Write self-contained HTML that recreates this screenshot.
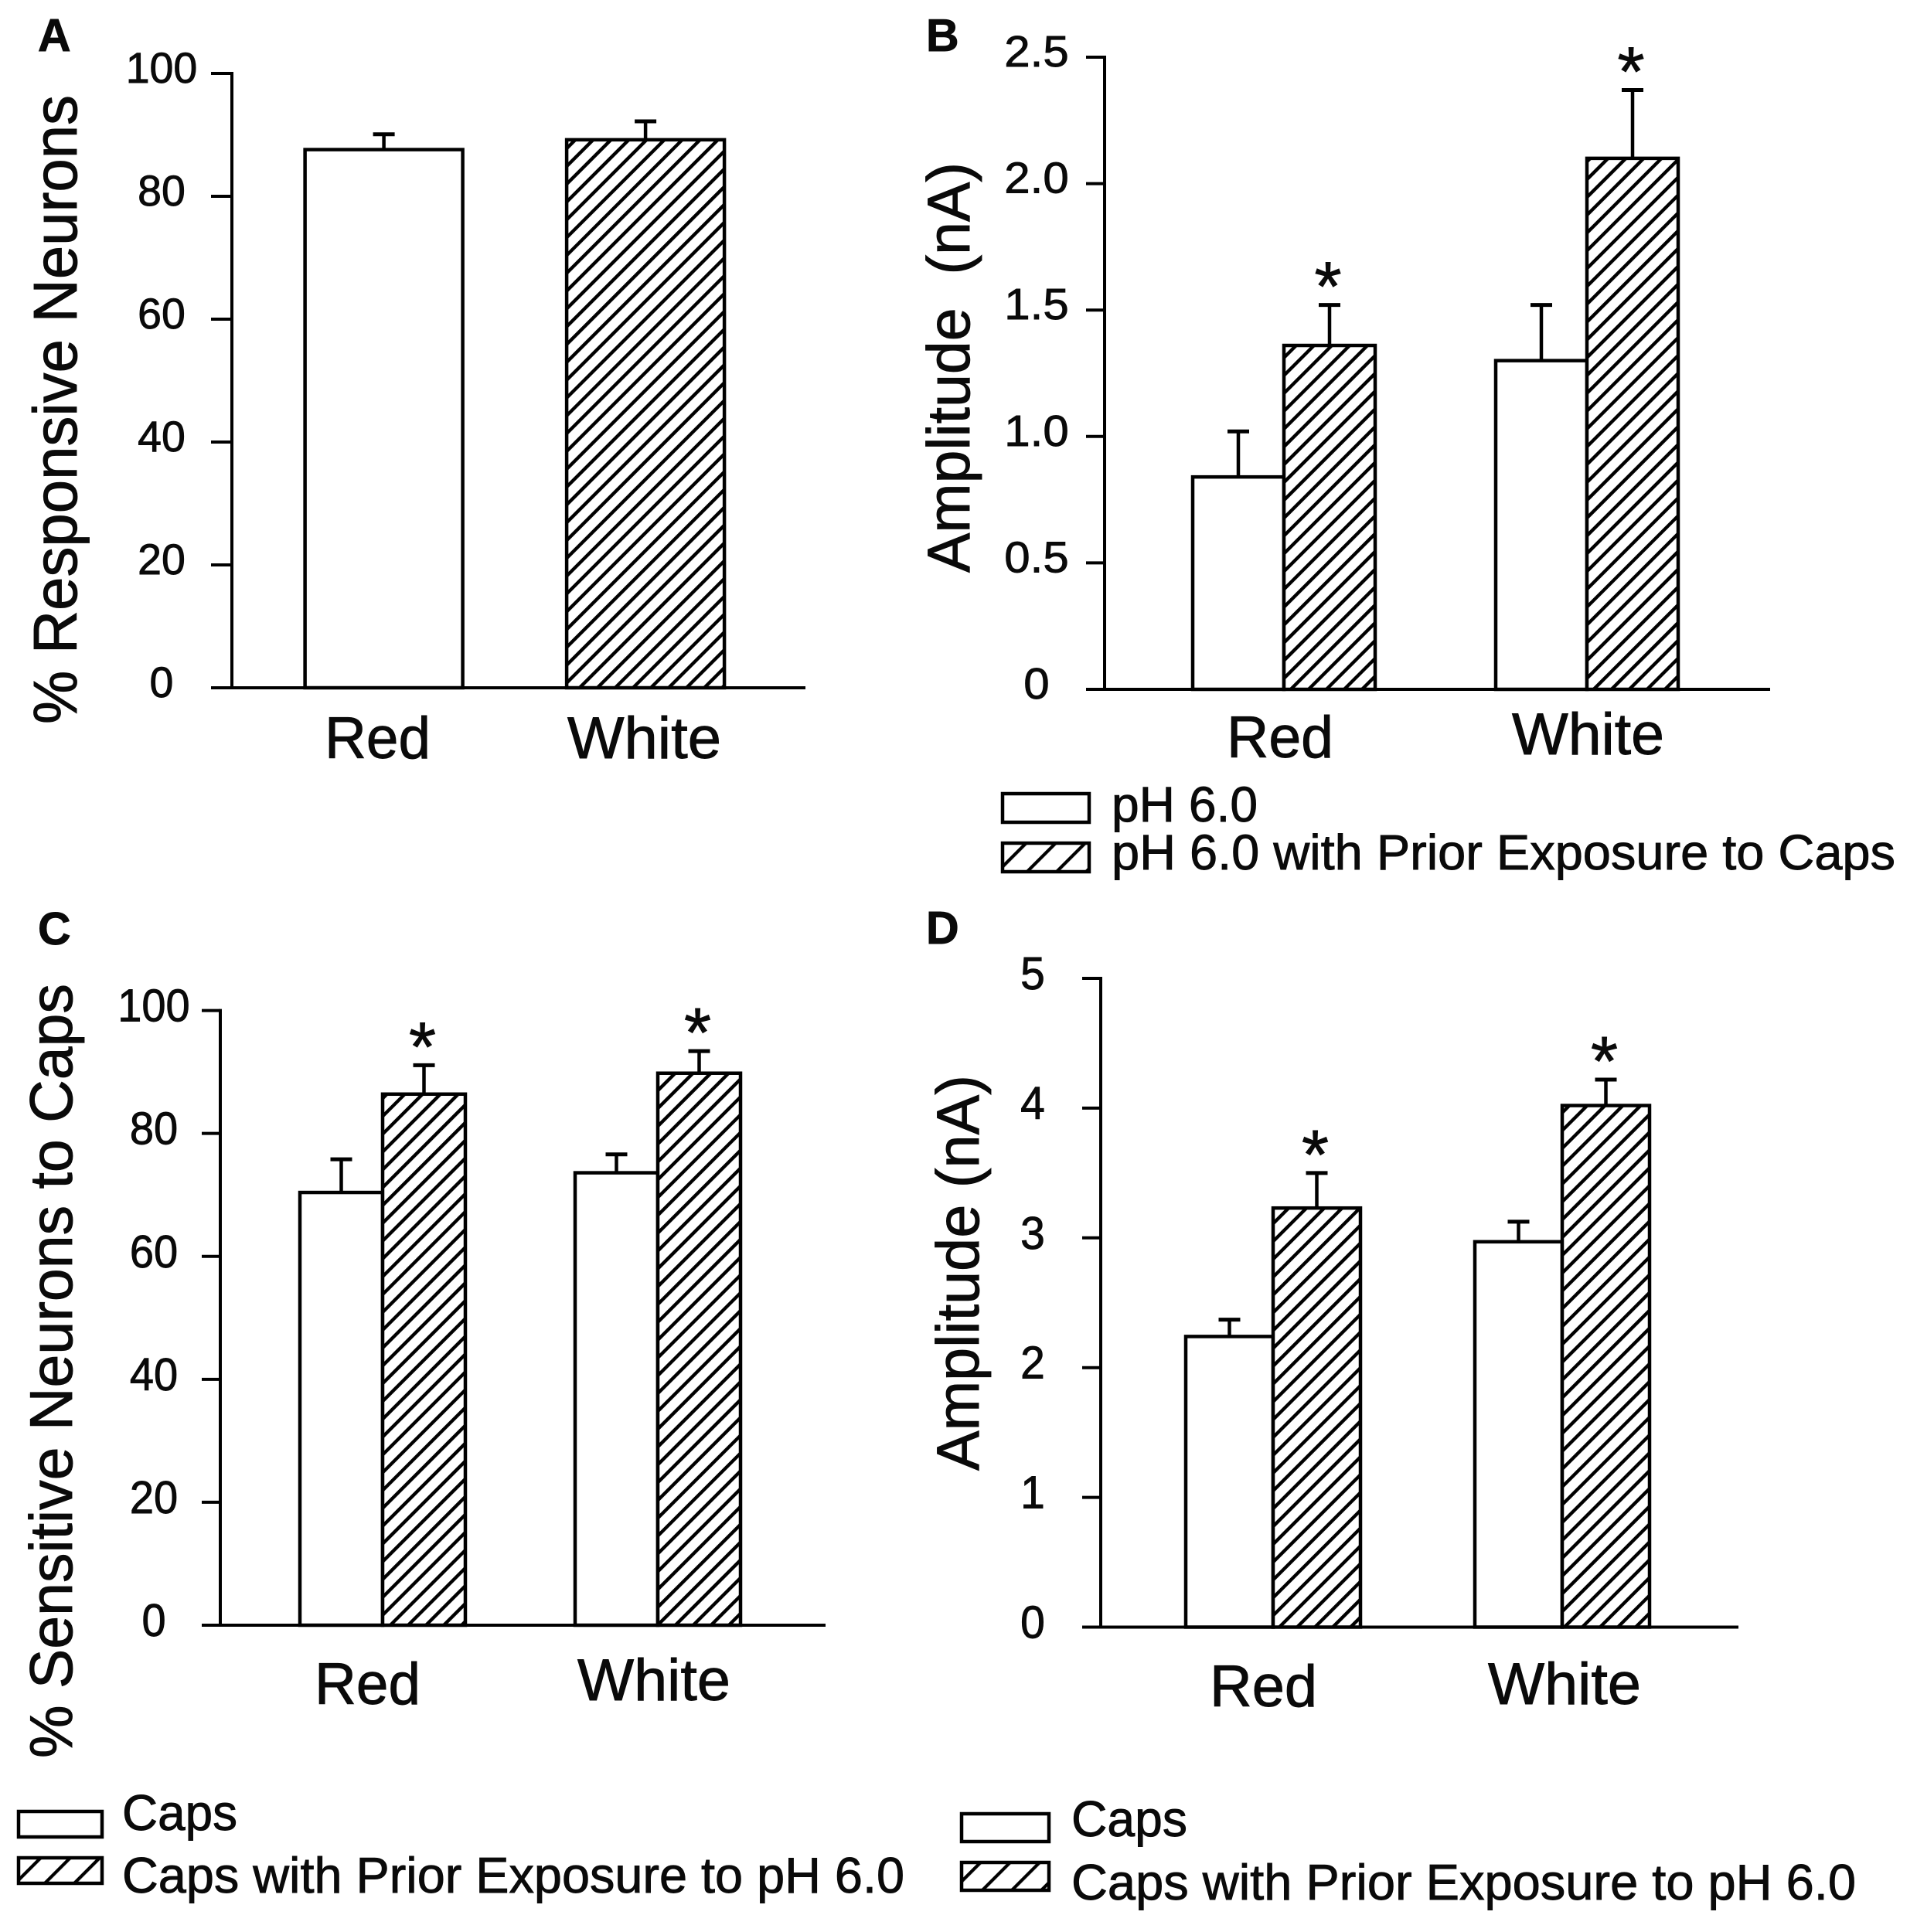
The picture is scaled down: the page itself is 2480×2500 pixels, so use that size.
<!DOCTYPE html>
<html lang="en">
<head>
<meta charset="utf-8">
<title>Neuron responses panels A-D</title>
<style>
html,body{margin:0;padding:0;background:#fff;}
svg{display:block;}
text{font-family:"Liberation Sans",Arial,sans-serif;fill:#0a0a0a;stroke:#0a0a0a;stroke-width:0.9px;white-space:pre;}
</style>
</head>
<body>
<svg id="figure" xmlns="http://www.w3.org/2000/svg" width="2480" height="2500" viewBox="0 0 2480 2500">
<defs>
<pattern id="hatch-bar" width="16.3" height="16.3" patternUnits="userSpaceOnUse" patternTransform="rotate(45)">
<rect width="16.3" height="16.3" fill="#fff"/>
<rect width="4.4" height="16.3" fill="#000"/>
</pattern>
<pattern id="hatch-legend" width="27" height="27" patternUnits="userSpaceOnUse" patternTransform="translate(6 4) rotate(45)">
<rect width="27" height="27" fill="#fff"/>
<rect width="4.2" height="27" fill="#000"/>
</pattern>
</defs>
<rect x="0" y="0" width="2480" height="2500" fill="#fff"/>
</svg>
<script>
// ---- chart data ----
const categories = ["Red", "White"];

const panelATicks = [0, 20, 40, 60, 80, 100];
const panelATickLabels = ["0", "20", "40", "60", "80", "100"];
const panelAValues = [87.6, 89.2];
const panelAErrors = [2.5, 3.0];

const panelBTicks = [0, 0.5, 1.0, 1.5, 2.0, 2.5];
const panelBTickLabels = ["0", "0.5", "1.0", "1.5", "2.0", "2.5"];
const panelBPh = [0.84, 1.30];
const panelBPhErrors = [0.18, 0.22];
const panelBPrior = [1.36, 2.10];
const panelBPriorErrors = [0.16, 0.27];

const panelCTicks = [0, 20, 40, 60, 80, 100];
const panelCTickLabels = ["0", "20", "40", "60", "80", "100"];
const panelCCaps = [70.4, 73.6];
const panelCCapsErrors = [5.4, 3.0];
const panelCPrior = [86.4, 89.8];
const panelCPriorErrors = [4.7, 3.6];

const panelDTicks = [0, 1, 2, 3, 4, 5];
const panelDTickLabels = ["0", "1", "2", "3", "4", "5"];
const panelDCaps = [2.24, 2.97];
const panelDCapsErrors = [0.13, 0.155];
const panelDPrior = [3.23, 4.02];
const panelDPriorErrors = [0.27, 0.20];

// ---- helpers ----
const svg = document.getElementById('figure');
const NS = 'http://www.w3.org/2000/svg';

function make(parent, tag, name, attrs, content) {
  const el = document.createElementNS(NS, tag);
  
  
  for (const k in attrs) el.setAttribute(k, attrs[k]);
  if (content !== undefined) el.textContent = content;
  parent.appendChild(el);
  return el;
}

function line(parent, name, x1, y1, x2, y2, w) {
  return make(parent, 'line', name, {x1: x1, y1: y1, x2: x2, y2: y2, stroke: '#000', 'stroke-width': w});
}

function digitsWidth(s) {
  let w = 0;
  for (const c of s) w += c === '.' ? 0.278 : 0.556;
  return w;
}

function drawPanel(p) {
  const g = make(svg, 'g', 'panel-' + p.id, {});
  const yScale = v => p.bottom - (v / p.max) * (p.bottom - p.top);
  const barX = (group, series) => p.firstBar + group * p.groupStep + series * p.barWidth;

  make(g, 'text', 'panel-label-' + p.id, {x: p.letter[0], y: p.letter[1], 'font-size': 59, 'font-weight': 'bold'}, p.id.toUpperCase());

  // y title
  const title = p.title;
  make(g, 'text', 'y-axis-title', {
    x: title.x, y: title.yBottom, 'font-size': title.size,
    transform: 'rotate(-90 ' + title.x + ' ' + title.yBottom + ')',
    textLength: title.length, lengthAdjust: 'spacingAndGlyphs'
  }, title.text);

  // bars
  p.series.forEach((s, si) => {
    s.values.forEach((v, ci) => {
      const seriesSlot = p.singleSeries ? 0 : si;
      const left = barX(ci, seriesSlot);
      const centre = left + p.barWidth / 2;
      const topY = yScale(v);
      const errY = yScale(v + s.errors[ci]);
      const hatched = p.singleSeries ? ci === 1 : si === 1;
      const label = categories[ci].toLowerCase() + '-' + s.key;
      line(g, 'error-stem-' + label, centre, topY, centre, errY, 4.5);
      line(g, 'error-cap-' + label, centre - 14, errY, centre + 14, errY, 5);
      make(g, 'rect', 'bar-' + label, {
        x: left, y: topY, width: p.barWidth, height: p.bottom - topY,
        fill: hatched ? 'url(#hatch-bar)' : '#fff', stroke: '#000', 'stroke-width': 4.5
      });
      if (s.star) {
        make(g, 'text', 'significance-star-' + label, {
          x: centre - 2, y: errY - 38 + 45, 'font-size': 90, 'text-anchor': 'middle'
        }, '*');
      }
    });
  });

  // axes
  line(g, 'y-axis', p.axisX, p.top - 2, p.axisX, p.bottom + 2, 4);
  line(g, 'x-axis', p.tickLeft, p.bottom, p.axisRight, p.bottom, 4);
  p.ticks.forEach((t, i) => {
    const y = yScale(t);
    line(g, 'y-tick-' + p.tickLabels[i], p.tickLeft, y, p.axisX, y, 4);
    const lbl = p.tickLabels[i];
    make(g, 'text', 'y-tick-label-' + lbl, {
      x: p.tickCentre, y: y + p.tickBaseline, 'font-size': p.tickSize, 'text-anchor': 'middle',
      textLength: (digitsWidth(lbl) * p.tickWidth).toFixed(1), lengthAdjust: 'spacingAndGlyphs'
    }, lbl);
  });

  // category labels
  p.catLayout.forEach((c, i) => {
    make(g, 'text', 'x-category-label-' + categories[i].toLowerCase(), {
      x: c.x, y: c.y, 'font-size': 76, textLength: c.w, lengthAdjust: 'spacingAndGlyphs'
    }, categories[i]);
  });

  // legend
  if (p.legend) {
    const L = p.legend;
    L.items.forEach((item, i) => {
      make(g, 'rect', 'legend-swatch-' + (i + 1), {
        x: L.x, y: item.y, width: L.w, height: L.h,
        fill: i === 1 ? 'url(#hatch-legend)' : '#fff', stroke: '#000', 'stroke-width': 4.5
      });
      make(g, 'text', 'legend-label-' + (i + 1), {
        x: L.textX, y: item.base, 'font-size': L.size, textLength: item.len, lengthAdjust: 'spacingAndGlyphs'
      }, item.text);
    });
  }
}

// ---- panels (layout + references to the data arrays) ----
drawPanel({
  id: 'a', letter: [49, 66], top: 95, bottom: 890, max: 100,
  axisX: 300, tickLeft: 273, axisRight: 1042,
  firstBar: 394.6, barWidth: 204, groupStep: 338.5, singleSeries: true,
  ticks: panelATicks, tickLabels: panelATickLabels,
  tickCentre: 209, tickBaseline: 12, tickSize: 56, tickWidth: 55.5,
  title: {text: '% Responsive Neurons', x: 99, yBottom: 937, size: 80, length: 814},
  series: [{key: 'percent-responsive', values: panelAValues, errors: panelAErrors, star: false}],
  catLayout: [{x: 420, y: 981, w: 137}, {x: 734, y: 981, w: 199}]
});

drawPanel({
  id: 'b', letter: [1198, 66], top: 74, bottom: 892, max: 2.5,
  axisX: 1429, tickLeft: 1405, axisRight: 2290,
  firstBar: 1543, barWidth: 118, groupStep: 392,
  ticks: panelBTicks, tickLabels: panelBTickLabels,
  tickCentre: 1341, tickBaseline: 12, tickSize: 57, tickWidth: 60,
  title: {text: 'Amplitude  (nA)', x: 1254, yBottom: 741, size: 78, length: 531},
  series: [
    {key: 'ph-6', values: panelBPh, errors: panelBPhErrors, star: false},
    {key: 'ph-6-prior-caps', values: panelBPrior, errors: panelBPriorErrors, star: true}
  ],
  catLayout: [{x: 1587, y: 980, w: 138}, {x: 1956, y: 976, w: 197}],
  legend: {
    x: 1297, w: 112, h: 37, textX: 1438, size: 64,
    items: [
      {y: 1027, base: 1063, len: 189, text: 'pH 6.0'},
      {y: 1091, base: 1125, len: 1014, text: 'pH 6.0 with Prior Exposure to Caps'}
    ]
  }
});

drawPanel({
  id: 'c', letter: [49, 1222], top: 1307.6, bottom: 2103, max: 100,
  axisX: 285, tickLeft: 261, axisRight: 1068,
  firstBar: 388, barWidth: 107, groupStep: 356,
  ticks: panelCTicks, tickLabels: panelCTickLabels,
  tickCentre: 199, tickBaseline: 14, tickSize: 59, tickWidth: 56,
  title: {text: '% Sensitive Neurons to Caps', x: 93, yBottom: 2275, size: 78, length: 1002},
  series: [
    {key: 'caps', values: panelCCaps, errors: panelCCapsErrors, star: false},
    {key: 'caps-prior-ph', values: panelCPrior, errors: panelCPriorErrors, star: true}
  ],
  catLayout: [{x: 407, y: 2205, w: 137}, {x: 747, y: 2200, w: 198}],
  legend: {
    x: 24, w: 108, h: 33, textX: 158, size: 65,
    items: [
      {y: 2344, base: 2368, len: 149, text: 'Caps'},
      {y: 2404, base: 2449, len: 1012, text: 'Caps with Prior Exposure to pH 6.0'}
    ]
  }
});

drawPanel({
  id: 'd', letter: [1198, 1221], top: 1266, bottom: 2105.5, max: 5,
  axisX: 1424, tickLeft: 1400, axisRight: 2249,
  firstBar: 1534, barWidth: 113, groupStep: 374,
  ticks: panelDTicks, tickLabels: panelDTickLabels,
  tickCentre: 1336, tickBaseline: 14, tickSize: 59, tickWidth: 57,
  title: {text: 'Amplitude (nA)', x: 1266, yBottom: 1903, size: 78, length: 512},
  series: [
    {key: 'caps', values: panelDCaps, errors: panelDCapsErrors, star: false},
    {key: 'caps-prior-ph', values: panelDPrior, errors: panelDPriorErrors, star: true}
  ],
  catLayout: [{x: 1565, y: 2208, w: 139}, {x: 1925, y: 2205, w: 198}],
  legend: {
    x: 1244, w: 113, h: 36, textX: 1386, size: 65,
    items: [
      {y: 2347, base: 2376, len: 150, text: 'Caps'},
      {y: 2410, base: 2458, len: 1015, text: 'Caps with Prior Exposure to pH 6.0'}
    ]
  }
});
</script>
</body>
</html>
